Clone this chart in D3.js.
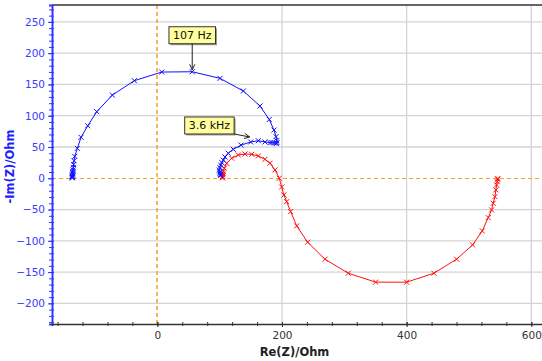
<!DOCTYPE html>
<html><head><meta charset="utf-8">
<script src="https://cdn.jsdelivr.net/npm/d3@7"></script>
<style>body{margin:0;background:#fff}svg{display:block}</style>
</head><body>
<script>
// ---- data ----
const blueRe = [-136.5,-136.5,-136.3,-136.2,-136,-135.8,-135.7,-135.5,-135.2,-134.8,-134.3,-133.6,-132.5,-128.3,-122.4,-111.6,-97.2,-72.2,-36.9,7.1,56,100.6,138,164.7,179.6,187.2,190.4,191.5,192,191,188,184,180.8,172.7,162,149.8,134.2,121.9,113.9,108.5,105.9,103.5,101.7,100.5,99.4,100,100.6,101,101.5];
const blueIm = [0.5,1.5,2.5,3.5,5,7,9,11,13.5,17,22,28,35,47.9,65.5,84,106.4,133,156,169.8,170.3,159.7,139.5,115.5,94,77,66.5,60,57,55.5,56.5,57,57,58,60,58,53,46.3,40,34,29,25,21,17,13,10,8,6,4.5];
const redRe = [104.5,104.6,104.8,105,105.3,105.9,107.5,111.3,119.3,130,140.7,151.4,162,172.7,180.8,188.8,195.7,199.5,203.2,207.5,213.9,223.6,241.2,269,306.3,350.3,400,443.8,480.2,505.8,521.3,530.9,536.3,538.9,541.6,543.2,544.3,545.3,546,546.3];
const redIm = [0.5,1.5,3,5.3,7.5,11,16,24,32,37.2,38.8,38.3,35.6,30.3,24,13.3,0,-14,-26.7,-37.4,-53.3,-76.2,-102.2,-129.4,-151.8,-166.1,-166.1,-151.8,-129.4,-106.5,-84.2,-62.9,-50.6,-40,-29.4,-18.7,-10.7,-5.4,-1.6,-0.5];
const xTicks = [0,200,400,600];
const yTicks = [-200,-150,-100,-50,0,50,100,150,200,250];
const annotLabels = ["107 Hz","3.6 kHz"];
const annotRe = [56, 149.8];
const annotIm = [170.3, 58];
const xTitle = "Re(Z)/Ohm";
const yTitle = "-Im(Z)/Ohm";

// ---- chart ----
const W=542,H=361;
const L=52,R=545,T=5,B=324;
const x = d3.scaleLinear().domain([-169,622]).range([L,R]);
const y = d3.scaleLinear().domain([-233,277]).range([B,T]);
const svg = d3.select("body").append("svg").attr("width",W).attr("height",H);
const font = "DejaVu Sans, Verdana, sans-serif";
const crisp = v => Math.round(v)+0.5;

// grid
svg.append("g").selectAll("line").data(yTicks.filter(d=>d!==0)).join("line")
  .attr("x1",L).attr("x2",R).attr("y1",d=>y(d)).attr("y2",d=>y(d))
  .attr("stroke","#d4d4d4").attr("stroke-width",1.3);
svg.append("g").selectAll("line").data(xTicks.filter(d=>d!==0)).join("line")
  .attr("y1",T).attr("y2",B).attr("x1",d=>x(d)).attr("x2",d=>x(d))
  .attr("stroke","#d4d4d4").attr("stroke-width",1.3);
// zero lines
svg.append("line").attr("x1",L).attr("x2",R).attr("y1",crisp(y(0))).attr("y2",crisp(y(0)))
  .attr("stroke","#f7a030").attr("stroke-width",1.2).attr("stroke-dasharray","4,3");
svg.append("line").attr("y1",T).attr("y2",B).attr("x1",Math.round(x(0))).attr("x2",Math.round(x(0)))
  .attr("stroke","#f9a22e").attr("stroke-width",1.6).attr("stroke-dasharray","4,3");
// top border
svg.append("line").attr("x1",L).attr("x2",W).attr("y1",T).attr("y2",T).attr("stroke","#333").attr("stroke-width",1.5);

// axes
const yMinor = d3.range(-230,280,10);
const xMinor = d3.range(-160,621,40);
const gy = svg.append("g").attr("transform",`translate(${L},0)`);
gy.call(d3.axisLeft(y).tickValues(yMinor).tickSize(3).tickFormat(""));
gy.append("g").call(d3.axisLeft(y).tickValues(yTicks).tickSize(4).tickPadding(3));
gy.selectAll("path,line").attr("stroke","#3434ff").attr("stroke-width",1);
gy.select("path.domain").attr("stroke-width",2);
gy.selectAll(".tick line").attr("x1",2);
gy.selectAll("text").attr("fill","#3a3aff").style("font-family",font).style("font-size","10.5px");
gy.selectAll("path.domain").filter((d,i)=>i>0).remove();

const gx = svg.append("g").attr("transform",`translate(0,${B})`);
gx.call(d3.axisBottom(x).tickValues(xMinor).tickSize(2).tickFormat(""));
gx.append("g").call(d3.axisBottom(x).tickValues(xTicks).tickSize(3).tickPadding(5));
gx.selectAll("path,line").attr("stroke","#333");
gx.select("path.domain").attr("stroke-width",1.5);
gx.selectAll(".tick line").attr("y1",-2);
gx.selectAll("text").attr("fill","#333").style("font-family",font).style("font-size","10.5px");
gx.selectAll("path.domain").filter((d,i)=>i>0).remove();

// titles
svg.append("text").attr("x",(L+R)/2-4).attr("y",356).attr("text-anchor","middle")
  .style("font-family",font).style("font-size","11.5px").style("font-weight","bold").attr("fill","#222").text(xTitle);
svg.append("text").attr("transform",`translate(14,${(T+B)/2+2}) rotate(-90)`).attr("text-anchor","middle")
  .style("font-family",font).style("font-size","11.5px").style("font-weight","bold").attr("fill","#2020ff").text(yTitle);

// series
function series(re,im,color){
  const pts = re.map((v,i)=>[x(v),y(im[i])]);
  const g = svg.append("g");
  g.append("path").attr("d",d3.line()(pts)).attr("fill","none").attr("stroke",color).attr("stroke-width",1);
  g.selectAll("path.m").data(pts).join("path").attr("class","m")
    .attr("d",d=>{const s=2.5;return `M${d[0]-s},${d[1]-s}L${d[0]+s},${d[1]+s}M${d[0]-s},${d[1]+s}L${d[0]+s},${d[1]-s}`;})
    .attr("stroke",color).attr("stroke-width",1).attr("fill","none");
}
series(redRe,redIm,"#ff0f0f");
series(blueRe,blueIm,"#0f0fff");

// annotations
annotLabels.forEach((lab,i)=>{
  const px = x(annotRe[i]), py = y(annotIm[i]);
  const g = svg.append("g");
  let bx, by, sx, sy, ex, ey;
  const t = g.append("text").text(lab).style("font-family",font).style("font-size","11px").attr("fill","#111");
  const w = t.node().getComputedTextLength()+8, h=17;
  if(i===0){ bx = px - w/2; by = py - 45; sx = px; sy = by+h; ex = px; ey = py-2; }
  else { bx = px - 66; by = py - 25; sx = bx + w; sy = by + h; ex = px - 1; ey = py - 5; }
  g.insert("rect","text").attr("x",bx+1.5).attr("y",by+1.5).attr("width",w).attr("height",h).attr("fill","#9a9a9a");
  g.insert("rect","text").attr("x",bx).attr("y",by).attr("width",w).attr("height",h).attr("fill","#ffff9e").attr("stroke","#333").attr("stroke-width",1);
  t.attr("x",bx+4).attr("y",by+12.5);
  g.append("line").attr("x1",sx).attr("y1",sy).attr("x2",ex).attr("y2",ey).attr("stroke","#222").attr("stroke-width",1);
  const ang = Math.atan2(ey-sy,ex-sx), a=6, sp=0.45;
  const p1=[ex-a*Math.cos(ang-sp),ey-a*Math.sin(ang-sp)], p2=[ex-a*Math.cos(ang+sp),ey-a*Math.sin(ang+sp)];
  g.append("path").attr("d",`M${p1}L${ex},${ey}L${p2}`).attr("fill","none").attr("stroke","#222").attr("stroke-width",1);
});
</script>
</body></html>
